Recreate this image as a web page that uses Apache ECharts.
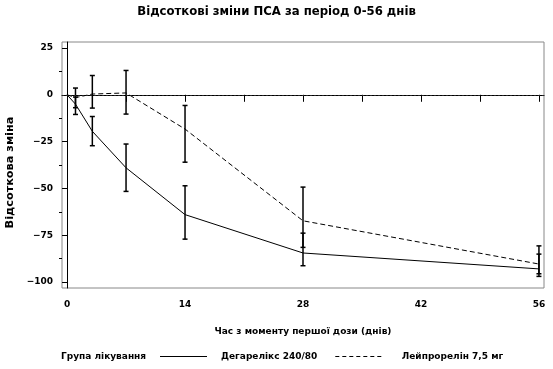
<!DOCTYPE html>
<html>
<head>
<meta charset="utf-8">
<script src="https://cdn.jsdelivr.net/npm/echarts@6/dist/echarts.min.js"></script>
<style>html,body{margin:0;padding:0;background:#fff}#c{width:553px;height:369px}</style>
</head>
<body>
<div id="c"></div>
<script>
// ---- data ----
const days = [0, 1, 3, 7, 14, 28, 56];
const degName = 'Дегарелікс 240/80';
const leuName = 'Лейпрорелін 7,5 мг';
const degMean = [0, -5, -19.5, -39, -64, -84.5, -93];
const degLow  = [null, -10.5, -27.2, -51.6, -77.1, -91.3, -97];
const degHigh = [null, -1.2, -11.6, -26.3, -48.6, -73.9, -85.1];
const leuMean = [0, -1.5, 0.4, 1, -18.3, -67.3, -90.4];
const leuLow  = [null, -6.9, -7.1, -10.3, -36, -81.5, -95.6];
const leuHigh = [null, 3.6, 10.3, 13, -5.7, -49.3, -80.7];
const xTicks = [0, 7, 14, 21, 28, 35, 42, 49, 56];
const xLabels = [0, 14, 28, 42, 56];
const yMajor = [25, 0, -25, -50, -75, -100];
const yMinor = [12.5, -12.5, -37.5, -62.5, -87.5];

const FONT = 'DejaVu Sans';

function errData(low, high) {
  const out = [];
  for (let i = 0; i < days.length; i++) {
    if (low[i] != null) out.push([days[i], low[i], high[i]]);
  }
  return out;
}
function renderErr(params, api) {
  const lo = api.coord([api.value(0), api.value(1)]);
  const hi = api.coord([api.value(0), api.value(2)]);
  const w = 2.5;
  const st = { stroke: '#000', lineWidth: 1.5 };
  return {
    type: 'group',
    children: [
      { type: 'line', shape: { x1: lo[0], y1: lo[1], x2: hi[0], y2: hi[1] }, style: st },
      { type: 'line', shape: { x1: lo[0] - w, y1: lo[1], x2: lo[0] + w, y2: lo[1] }, style: st },
      { type: 'line', shape: { x1: hi[0] - w, y1: hi[1], x2: hi[0] + w, y2: hi[1] }, style: st }
    ]
  };
}

const solidIcon = 'path://M0,0h47v1h-47z';
const dashedIcon = 'path://M0,0h4v1h-4z M7,0h4v1h-4z M14,0h4v1h-4z M21,0h4v1h-4z M28,0h4v1h-4z M35,0h4v1h-4z M42,0h4v1h-4z';

const chart = echarts.init(document.getElementById('c'), null, { renderer: 'canvas' });
const txt = { fontFamily: FONT, fontWeight: 'bold', color: '#000' };

chart.setOption({
  animation: false,
  backgroundColor: '#fff',
  title: [
    { text: 'Відсоткові зміни ПСА за період 0-56 днів', left: 'center', top: 6, padding: 0,
      textStyle: Object.assign({}, txt, { fontSize: 11.7 }) },
    { text: 'Група лікування', left: 61, top: 352, padding: 0,
      textStyle: Object.assign({}, txt, { fontSize: 9 }) }
  ],
  legend: {
    left: 160, top: 352, padding: 0, itemWidth: 47, itemHeight: 1, itemGap: 18,
    data: [
      { name: degName, icon: solidIcon },
      { name: leuName, icon: dashedIcon, textStyle: { padding: [0, 0, 0, 15] } }
    ],
    itemStyle: { color: '#000', borderWidth: 0 },
    textStyle: Object.assign({}, txt, { fontSize: 9, padding: [0, 0, 0, 9] })
  },
  grid: { left: 62, right: 9, top: 42, bottom: 81, show: true, borderColor: '#888', borderWidth: 1,
    outerBoundsMode: 'none', containLabel: false },
  xAxis: {
    type: 'value', min: -0.6, max: 56.6,
    name: 'Час з моменту першої дози (днів)', nameLocation: 'middle', nameGap: 39,
    nameTextStyle: Object.assign({}, txt, { fontSize: 9 }),
    axisLine: { show: true, lineStyle: { color: '#000', width: 1 } },
    axisTick: { show: true, inside: false, length: 7, customValues: xTicks, lineStyle: { color: '#000' } },
    axisLabel: { customValues: xLabels, margin: 12, fontSize: 9, fontFamily: FONT, fontWeight: 'bold', color: '#000' },
    splitLine: { show: false }
  },
  yAxis: [
    {
      type: 'value', min: -103.2, max: 28.2,
      name: 'Відсоткова зміна', nameLocation: 'middle', nameGap: 39, nameRotate: 90,
      nameTextStyle: Object.assign({}, txt, { fontSize: 11.3, padding: [0, 15, 0, 0] }),
      axisLine: { show: true, lineStyle: { color: '#000', width: 1 } },
      axisTick: { show: true, inside: false, length: 5, customValues: yMajor, lineStyle: { color: '#000' } },
      axisLabel: { customValues: yMajor, margin: 9, fontSize: 9, fontFamily: FONT, fontWeight: 'bold', color: '#000',
        formatter: v => (v < 0 ? '\u2212' + Math.abs(v) : String(v)) },
      splitLine: { show: false }
    },
    {
      type: 'value', min: -103.2, max: 28.2, position: 'left',
      axisLine: { show: false },
      axisTick: { show: true, inside: false, length: 3, customValues: yMinor, lineStyle: { color: '#000' } },
      axisLabel: { show: false },
      splitLine: { show: false }
    }
  ],
  series: [
    {
      name: degName, type: 'line', symbol: 'none', z: 3,
      data: days.map((d, i) => [d, degMean[i]]),
      lineStyle: { color: '#000', width: 1, type: 'solid' }, itemStyle: { color: '#000' },
      markLine: {
        silent: true, symbol: 'none', label: { show: false },
        lineStyle: { color: '#222', width: 1, type: [2, 2] },
        data: [{ yAxis: 0 }]
      }
    },
    {
      name: leuName, type: 'line', symbol: 'none', z: 3,
      data: days.map((d, i) => [d, leuMean[i]]),
      lineStyle: { color: '#000', width: 1, type: [5, 3] }, itemStyle: { color: '#000' }
    },
    { type: 'custom', renderItem: renderErr, data: errData(degLow, degHigh), z: 4, encode: { x: 0, y: [1, 2] } },
    { type: 'custom', renderItem: renderErr, data: errData(leuLow, leuHigh), z: 4, encode: { x: 0, y: [1, 2] } }
  ]
});
</script>
</body>
</html>
